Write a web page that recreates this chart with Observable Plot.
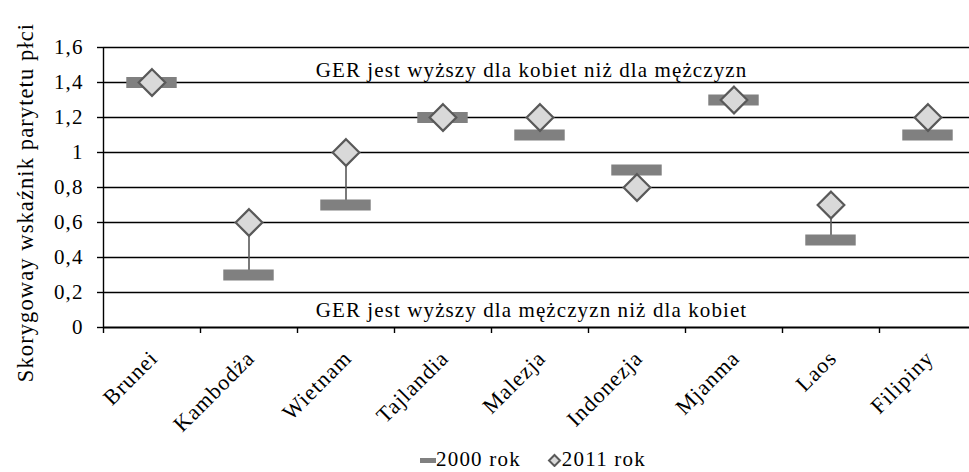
<!DOCTYPE html>
<html>
<head>
<meta charset="utf-8">
<script src="https://cdn.jsdelivr.net/npm/d3@7"></script>
<script src="https://cdn.jsdelivr.net/npm/@observablehq/plot@0.6"></script>
<style>
  html, body { margin: 0; padding: 0; background: #fff; }
  #wrap { position: relative; width: 969px; height: 472px; overflow: hidden; }
  #wrap svg text { font-family: "Liberation Serif", "Times New Roman", serif; letter-spacing: 1.1px; }
  #legend { position: absolute; left: 420px; top: 447px; font-family: "Liberation Serif", serif; font-size: 21px; letter-spacing: 1.2px; color: #000; display: flex; align-items: center; white-space: nowrap; }
  #legend .item { display: flex; align-items: center; }
  #legend svg { display: block; }
</style>
</head>
<body>
<div id="wrap"></div>
<script>
const categories = ["Brunei", "Kambodża", "Wietnam", "Tajlandia", "Malezja", "Indonezja", "Mjanma", "Laos", "Filipiny"];
const values2000 = [1.4, 0.3, 0.7, 1.2, 1.1, 0.9, 1.3, 0.5, 1.1];
const values2011 = [1.4, 0.6, 1.0, 1.2, 1.2, 0.8, 1.3, 0.7, 1.2];
const yTicks = [0, 0.2, 0.4, 0.6, 0.8, 1, 1.2, 1.4, 1.6];
const yTickLabels = ["0", "0,2", "0,4", "0,6", "0,8", "1", "1,2", "1,4", "1,6"];
const seriesNames = ["2000 rok", "2011 rok"];
const yTitle = "Skorygoway wskaźnik parytetu płci";
const annotationTexts = ["GER jest wyższy dla kobiet niż dla mężczyzn", "GER jest wyższy dla mężczyzn niż dla kobiet"];
const annotationValues = [1.47, 0.1];

const rows = categories.map((c, i) => ({category: c, idx: i, v2000: values2000[i], v2011: values2011[i]}));
const annotations = annotationTexts.map((t, i) => ({text: t, y: annotationValues[i]}));

const barColor = "#808080";
const diamondFill = "#d9d9d9";
const darkGray = "#595959";

const chart = Plot.plot({
  width: 969,
  height: 445,
  marginLeft: 103,
  marginRight: 0,
  marginTop: 47,
  marginBottom: 118,
  style: {background: "#fff", fontSize: "21px", overflow: "visible"},
  x: {type: "linear", domain: [0, categories.length], range: [103, 976], axis: null},
  y: {domain: [0, 1.6], axis: null},
  marks: [
    // gridlines
    Plot.ruleY(yTicks.filter(v => v > 0), {stroke: "#000", strokeWidth: 1.4}),
    // y axis ticks and labels
    Plot.axisY({ticks: yTicks, tickFormat: d => yTickLabels[yTicks.indexOf(d)], tickSize: 6, tickPadding: 14, stroke: "#000", strokeWidth: 1.4, fontSize: 21, label: null, color: "#000"}),
    // x axis tick marks at category boundaries
    Plot.axisX({ticks: d3.range(categories.length + 1), tickFormat: () => "", tickSize: 6, stroke: "#000", strokeWidth: 1.4, label: null}),
    // axis lines
    Plot.ruleX([0], {y1: 0, y2: 1.6, stroke: "#000", strokeWidth: 1.4}),
    Plot.ruleY([0], {stroke: "#000", strokeWidth: 2}),
    // connectors
    Plot.ruleX(rows, {x: d => d.idx + 0.5, y1: "v2000", y2: "v2011", stroke: darkGray, strokeWidth: 1.6}),
    // 2000 markers (horizontal bars)
    Plot.ruleY(rows, {y: "v2000", x1: d => d.idx + 0.24, x2: d => d.idx + 0.76, stroke: barColor, strokeWidth: 11}),
    // 2011 markers (diamonds)
    Plot.dot(rows, {x: d => d.idx + 0.5, y: "v2011", symbol: "diamond2", r: 12, fill: diamondFill, stroke: darkGray, strokeWidth: 2.2}),
    // annotations
    Plot.text(annotations, {y: "y", text: "text", frameAnchor: "middle", dx: -5, fontSize: 21, fill: "#000"}),
    // category labels
    Plot.text(rows, {x: d => d.idx + 0.5, y: 0, text: "category", rotate: -45, textAnchor: "end", dx: 2, dy: 27, fontSize: 22, fill: "#000"}),
    // y title
    Plot.text([yTitle], {frameAnchor: "left", textAnchor: "middle", rotate: -90, dx: -78, dy: 15, fontSize: 22.5, fill: "#000"})
  ]
});
document.getElementById("wrap").appendChild(chart);

// legend
const legend = document.createElement("div");
legend.id = "legend";
const item1 = document.createElement("span");
item1.className = "item";
item1.innerHTML = `<svg width="16" height="10"><rect x="0" y="3" width="16" height="5" fill="${barColor}"></rect></svg>`;
item1.appendChild(document.createTextNode(seriesNames[0]));
const item2 = document.createElement("span");
item2.className = "item";
item2.style.marginLeft = "26px";
item2.innerHTML = `<svg width="15" height="14"><path d="M7.5,2 L13,7.5 L7.5,13 L2,7.5 Z" fill="${diamondFill}" stroke="${darkGray}" stroke-width="2"></path></svg>`;
item2.appendChild(document.createTextNode(seriesNames[1]));
legend.appendChild(item1);
legend.appendChild(item2);
document.getElementById("wrap").appendChild(legend);
</script>
</body>
</html>
